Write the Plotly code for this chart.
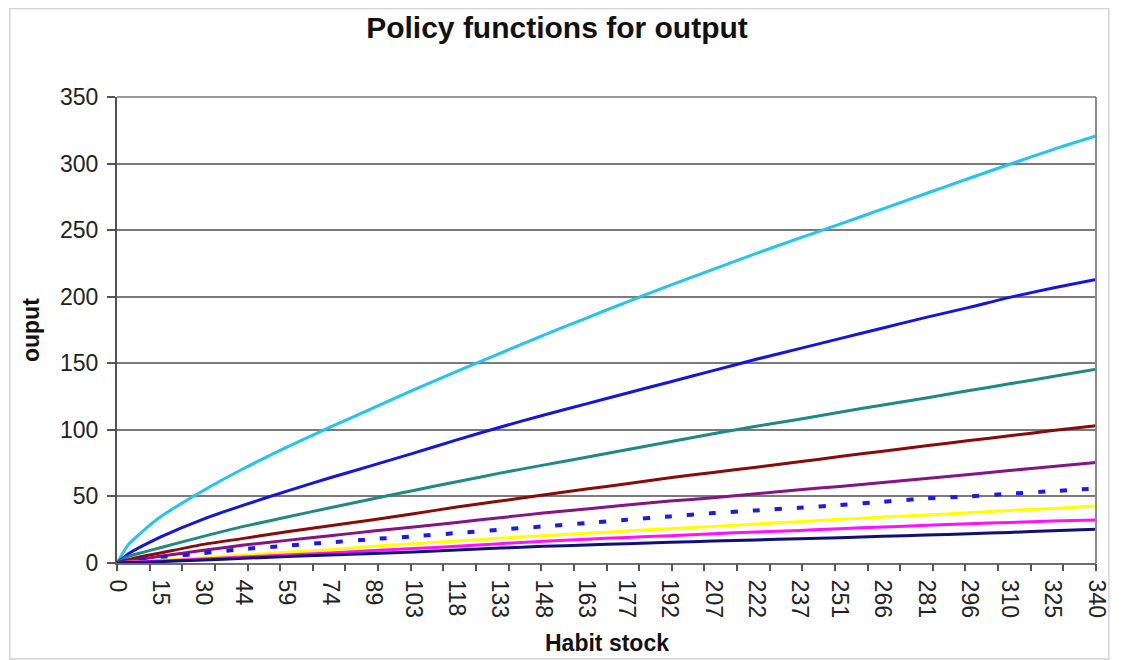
import plotly.graph_objects as go

# Habit stock (x): labelled positions plus two early readings
habit_stock = [0, 4, 9, 15, 30, 44, 59, 74, 89, 103, 118, 133, 148, 163, 177,
               192, 207, 222, 237, 251, 266, 281, 296, 310, 325, 340]
tick_labels = ["0", "15", "30", "44", "59", "74", "89", "103", "118", "133",
               "148", "163", "177", "192", "207", "222", "237", "251", "266",
               "281", "296", "310", "325", "340"]

# Output policy functions
cyan = [0, 14, 24, 34.5, 54.5, 71, 87, 102, 116.5, 130, 144, 157.5, 171, 184,
        196, 208.5, 220.5, 232.5, 244, 254.5, 266, 277.5, 289, 299.5, 310.5, 320.7]
blue = [0, 7, 13, 19.5, 33, 43.5, 54, 64, 73.5, 82.5, 92.5, 102, 111, 119.5,
        127.5, 136, 144.5, 153, 161, 168.5, 176.5, 184.5, 192, 199.5, 206.5, 213]
teal = [0, 5, 8, 11.5, 20, 27.5, 34.5, 41.5, 48.3, 54.5, 61, 67.5, 73.5, 79.5,
        85, 91, 97, 102.7, 108, 113.3, 118.7, 124, 129.5, 134.6, 140, 145.5]
darkred = [0, 2.5, 5, 7.5, 14, 18.5, 23.5, 28, 32.5, 37, 42, 46.5, 51, 55.5,
           59.5, 64, 68, 72, 76, 80, 84, 88, 92, 95.5, 99.5, 103]
purple = [0, 1.5, 3, 5, 9.5, 13.5, 17, 20.5, 24, 27, 30.5, 34, 37.5, 40.5, 43.5,
          46.5, 49, 52, 55, 57.5, 60.5, 63.5, 66.5, 69.5, 72.5, 75.5]
blue_dot = [0, 1, 2.5, 4, 7.5, 10.5, 13, 15.5, 18, 20, 22.5, 25, 27.5, 30, 32.5,
            35, 37.5, 39.5, 41.5, 43.5, 46, 48.5, 50, 52, 54, 56]
yellow = [0, 0.5, 1, 2, 4, 6, 8, 10, 12.5, 14.5, 16.5, 18.5, 20.5, 22.3, 24,
          25.8, 27.5, 29.3, 31, 32.8, 34.5, 36, 37.8, 39.5, 41, 42.8]
magenta = [0, 0.5, 1, 1.5, 3, 4.5, 6, 7.5, 9.3, 10.8, 12.5, 14.5, 16.3, 17.8,
           19.2, 20.5, 22, 23.3, 24.5, 25.8, 27, 28.3, 29.5, 30.5, 31.5, 32.3]
navy = [0, 0.3, 0.6, 1, 2.3, 3.5, 4.8, 6, 7.2, 8.3, 9.8, 11.2, 12.5, 13.5,
        14.5, 15.5, 16.5, 17.3, 18.2, 19, 20, 21, 22, 23, 24.2, 25.3]

series = [
    ("s1", cyan, "#22C4F0", "solid"),
    ("s2", blue, "#1414E6", "solid"),
    ("s3", teal, "#1E8A84", "solid"),
    ("s4", darkred, "#8A0A0A", "solid"),
    ("s5", purple, "#851485", "solid"),
    ("s6", blue_dot, "#1A1AF0", "7px,15px"),
    ("s7", yellow, "#FFFF00", "solid"),
    ("s8", magenta, "#FF10FF", "solid"),
]

fig = go.Figure()
for name, ys, col, dash in series:
    fig.add_trace(go.Scatter(
        x=habit_stock, y=ys, mode="lines", name=name,
        line=dict(color=col, width=4 if dash != "solid" else 3, dash=dash,
                  shape="spline", smoothing=0.6),
        showlegend=False, hoverinfo="skip"))
# navy series on the overlay axis which carries the tick marks
fig.add_trace(go.Scatter(
    x=habit_stock, y=navy, mode="lines", name="s9", xaxis="x2",
    line=dict(color="#10107A", width=3, shape="spline", smoothing=0.6),
    showlegend=False, hoverinfo="skip"))

# page body has an 8px margin, so the figure is 8px smaller than the window
OFF = 8
W, H = 1122 - OFF, 660 - OFF
L, T = 117 - OFF, 97 - OFF
R = W - (1108 - OFF)
B = H - (563 - OFF)
pw, ph = W - L - R, H - T - B

def px(x):
    return (x - OFF - L) / pw

def py(y):
    return (H - B - (y - OFF)) / ph

fig.update_layout(
    width=W, height=H,
    margin=dict(l=L, r=R, t=T, b=B),
    paper_bgcolor="white", plot_bgcolor="white",
    font=dict(family="Liberation Sans, Arial, sans-serif", color="#111"),
    title=dict(text="<b>Policy functions for output</b>", x=(557 - OFF) / W,
               xanchor="center", xref="container",
               y=1 - (27 - OFF) / H, yanchor="middle", yref="container",
               font=dict(size=30, color="#111")),
    xaxis=dict(range=[0, 340], tickmode="array",
               tickvals=[int(t) for t in tick_labels],
               ticktext=tick_labels, tickangle=90, ticks="",
               tickfont=dict(size=23, color="#222"), ticklabelstandoff=10,
               showgrid=False, showline=True, linecolor="#6E6E6E", linewidth=2,
               zeroline=False),
    xaxis2=dict(range=[0, 340], overlaying="x", anchor="y", side="bottom",
                tickmode="linear", tick0=0, dtick=340 / 30, ticks="outside",
                ticklen=7, tickwidth=1.5, tickcolor="#555", showticklabels=False,
                showgrid=False, showline=False, zeroline=False),
    yaxis=dict(range=[0, 350], tickmode="linear", tick0=0, dtick=50,
               ticks="outside", ticklen=8, tickwidth=1.5, tickcolor="#555",
               tickfont=dict(size=23, color="#222"), ticklabelstandoff=4,
               showgrid=True, gridcolor="#7A7A7A", gridwidth=1.5,
               showline=True, linecolor="#505050", linewidth=2, zeroline=False),
    shapes=[
        dict(type="line", xref="paper", yref="paper", x0=1, x1=1, y0=0, y1=1,
             line=dict(color="#8A8A8A", width=2)),
        dict(type="line", xref="paper", yref="paper", x0=0, x1=1, y0=1, y1=1,
             line=dict(color="#7A7A7A", width=1.5)),
        dict(type="rect", xref="paper", yref="paper", x0=-L / pw + 0.5 / pw,
             x1=(W - L - 1) / pw, y0=-(B - 1) / ph, y1=1 + (T - 0.5) / ph,
             line=dict(color="#D4D4D4", width=1.5)),
    ],
    annotations=[
        dict(text="<b>ouput</b>", xref="paper", yref="paper", x=px(30), y=py(330),
             textangle=-90, showarrow=False, font=dict(size=23, color="#111"),
             xanchor="center", yanchor="middle"),
        dict(text="<b>Habit stock</b>", xref="paper", yref="paper", x=px(613),
             y=py(643), showarrow=False, font=dict(size=23, color="#111"),
             xanchor="center", yanchor="middle"),
    ],
)

fig.write_html("out.html")
